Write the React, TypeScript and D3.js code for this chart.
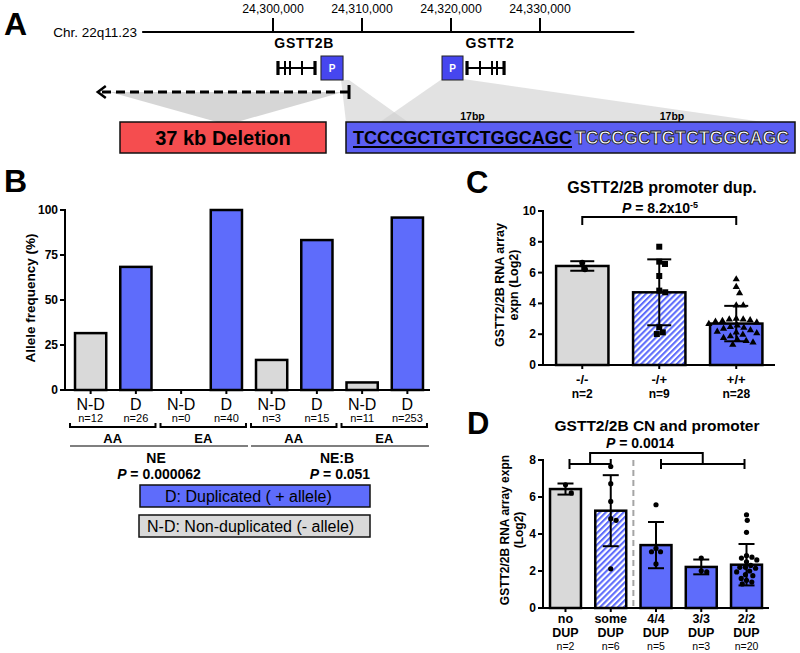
import React from "react";
import * as d3 from "d3";

const FONT = "'Liberation Sans', Arial, Helvetica, sans-serif";
const BLUE = "#5e6cfb";
const GRAY = "#d9d9d9";
const PBLUE = "#4646ef";
const RED = "#f54d4f";
const SEQBLUE = "#5b5ef2";

// ---------- Panel A data ----------
const chrTicks = [24300000, 24310000, 24320000, 24330000];
const chrLabel = "Chr. 22q11.23";
const chrSpanKb = [-14.7, 40.6];
const geneNames = ["GSTT2B", "GSTT2"];
const gstt2bExonsKb = [0.56, 1.35, 1.91, 3.26, 4.72];
const gstt2ExonsKb = [21.8, 23.26, 24.61, 25.17, 25.96];
const promoterKb = [[5.39, 7.87], [18.99, 21.35]];
const deletionKb = [-19.8, 8.54];
const deletionLabel = "37 kb Deletion";
const seqUnit = "TCCCGCTGTCTGGCAGC";
const seqUnitLabels = ["17bp", "17bp"];

// ---------- Panel B data ----------
const bCategories = ["N-D", "D", "N-D", "D", "N-D", "D", "N-D", "D"];
const bCounts = [12, 26, 0, 40, 3, 15, 11, 253];
const bFreq = [31.6, 68.4, 0, 100, 16.7, 83.3, 4.2, 95.8];
const bAncestry = ["AA", "EA", "AA", "EA"];
const bCohorts = ["NE", "NE:B"];
const bPValues = ["0.000062", "0.051"];
const bTicks = [0, 25, 50, 75, 100];
const bLegend = ["D: Duplicated ( + allele)", "N-D: Non-duplicated (- allele)"];

// ---------- Panel C data ----------
const cCategories = ["-/-", "-/+", "+/+"];
const cCounts = [2, 9, 28];
const cMeans = [6.43, 4.72, 2.69];
const cSD = [0.31, 2.14, 1.15];
const cPoints = [
  [6.64, 6.22],
  [7.68, 6.71, 6.56, 5.78, 4.83, 4.72, 2.45, 2.01, 2.12],
  [5.6, 5.1, 4.7, 3.9, 3.9, 3.05, 3.0, 3.0, 2.95, 2.9, 2.85, 2.8, 2.7, 2.6,
   2.5, 2.45, 2.4, 2.3, 2.2, 2.15, 2.1, 2.0, 1.9, 1.8, 1.7, 1.6, 1.5, 1.35],
];
const cTicks = [0, 2, 4, 6, 8, 10];

// ---------- Panel D data ----------
const dCategories = [["no", "DUP"], ["some", "DUP"], ["4/4", "DUP"], ["3/3", "DUP"], ["2/2", "DUP"]];
const dCounts = [2, 6, 5, 3, 20];
const dMeans = [6.43, 5.26, 3.4, 2.22, 2.34];
const dSD = [0.3, 1.92, 1.25, 0.4, 1.12];
const dPoints = [
  [6.66, 6.22],
  [7.65, 6.72, 5.76, 4.83, 4.74, 2.12],
  [5.58, 3.22, 3.04, 3.04, 2.38],
  [2.7, 2.01, 1.95],
  [5.04, 4.74, 4.09, 2.83, 2.75, 2.7, 2.6, 2.5, 2.3, 2.2, 2.2, 2.15, 2.0, 1.95,
   1.8, 1.75, 1.6, 1.5, 1.4, 1.3],
];
const dTicks = [0, 2, 4, 6, 8];

function swarm(values: number[], y: (v: number) => number, diam: number): number[] {
  const placed: { x: number; y: number }[] = [];
  const order = values.map((_, i) => i).sort((a, b) => values[b] - values[a]);
  const xs = new Array(values.length).fill(0);
  for (const i of order) {
    const py = y(values[i]);
    const cands = [0];
    for (const p of placed) {
      const dyy = Math.abs(p.y - py);
      if (dyy < diam) {
        const dxx = Math.sqrt(diam * diam - dyy * dyy);
        cands.push(p.x + dxx + 0.01, p.x - dxx - 0.01);
      }
    }
    cands.sort((a, b) => Math.abs(a) - Math.abs(b));
    let chosen = 0;
    for (const c of cands) {
      if (placed.every((p) => (p.x - c) ** 2 + (p.y - py) ** 2 >= diam * diam - 0.02)) {
        chosen = c;
        break;
      }
    }
    placed.push({ x: chosen, y: py });
    xs[i] = chosen;
  }
  return xs;
}

function Marker({ kind, x, y }: { kind: string; x: number; y: number }) {
  if (kind === "square") return <rect x={x - 3} y={y - 3} width={6} height={6} fill="#000" />;
  if (kind === "triangle")
    return <path d={`M${x},${y - 3.6} L${x + 3.6},${y + 2.6} L${x - 3.6},${y + 2.6} Z`} fill="#000" />;
  if (kind === "bigcircle") return <circle cx={x} cy={y} r={3} fill="#000" />;
  return <circle cx={x} cy={y} r={2.6} fill="#000" />;
}

export default function App() {
  // ---- Panel A ----
  const gx = d3.scaleLinear().domain([24300000, 24330000]).range([273, 540]);
  const kb = (k: number) => gx(24300000 + k * 1000);
  const chrY = 32;
  const geneY = 68;
  const fmt = d3.format(",");
  const delBox = { x: 120, y: 122, w: 206, h: 31 };
  const seqBox = { x: 346, y: 122, w: 449, h: 31 };
  const seqX1 = [353, 575];
  const seqW = [219, 214];

  const geneStruct = (exons: number[], key: string) => (
    <g key={key}>
      <line x1={kb(exons[0])} x2={kb(exons[exons.length - 1])} y1={geneY} y2={geneY} stroke="#000" strokeWidth={2} />
      {exons.map((e, i) => (
        <line key={i} x1={kb(e)} x2={kb(e)} y1={geneY - 7} y2={geneY + 7} stroke="#000"
          strokeWidth={i === 0 || i === exons.length - 1 ? 3.2 : 2} />
      ))}
    </g>
  );

  // ---- Panel B ----
  const bx = d3.scaleBand<number>().domain(d3.range(bCategories.length)).range([68, 430]).paddingInner(0.31).paddingOuter(0.155);
  const by = d3.scaleLinear().domain([0, 100]).range([390, 210]);
  const bw = bx.bandwidth();
  const bAxisX = 65;

  // ---- Panel C ----
  const cx = d3.scaleBand<number>().domain(d3.range(cCategories.length)).range([543, 775.5]).paddingInner(0.32).paddingOuter(0.17);
  const cy = d3.scaleLinear().domain([0, 10]).range([365, 211]);
  const cw = cx.bandwidth();
  const cFills = [GRAY, "url(#hatch)", BLUE];
  const cMarkers = ["bigcircle", "square", "triangle"];
  const cDiam = [7, 6.2, 7];

  // ---- Panel D ----
  const dx = d3.scaleBand<number>().domain(d3.range(dCategories.length)).range([543, 769]).paddingInner(0.316).paddingOuter(0.155);
  const dy = d3.scaleLinear().domain([0, 8]).range([608, 460]);
  const dw = dx.bandwidth();
  const dFills = [GRAY, "url(#hatch)", BLUE, BLUE, BLUE];
  const dSep = (dx(1)! + dw + dx(2)!) / 2;

  const txt = { fontFamily: FONT } as const;

  return (
    <svg width={800} height={653} style={{ position: "absolute", left: 0, top: 0, background: "#fff" }} fontFamily={FONT}>
      <defs>
        <pattern id="hatch" patternUnits="userSpaceOnUse" width={4.2} height={4.2} patternTransform="rotate(45)">
          <rect width={4.2} height={4.2} fill="#fff" />
          <line x1={1} y1={0} x2={1} y2={4.2} stroke={BLUE} strokeWidth={2.2} />
        </pattern>
      </defs>

      {/* ================= Panel A ================= */}
      <text x={4} y={35} fontSize={32} fontWeight="bold" {...txt}>A</text>
      <text x={137} y={chrY + 4.5} fontSize={13.5} textAnchor="end" {...txt}>{chrLabel}</text>
      <line x1={kb(chrSpanKb[0])} x2={kb(chrSpanKb[1])} y1={chrY} y2={chrY} stroke="#000" strokeWidth={2} />
      {chrTicks.map((t) => (
        <g key={t}>
          <line x1={gx(t)} x2={gx(t)} y1={chrY} y2={chrY - 14} stroke="#000" strokeWidth={2} />
          <text x={gx(t)} y={13} fontSize={12.3} textAnchor="middle" {...txt}>{fmt(t)}</text>
        </g>
      ))}

      {/* projection wedges */}
      <polygon points={`${kb(deletionKb[0]) + 13},${92} ${kb(deletionKb[1]) - 6},${92} ${delBox.x + delBox.w / 2 + 14},${delBox.y} ${delBox.x + delBox.w / 2 - 6},${delBox.y}`} fill="#cfcfcf" opacity={0.85} />
      <polygon points={`${kb(promoterKb[0][1]) - 2},80 ${kb(promoterKb[0][1]) + 6},80 ${seqBox.x + 62},${seqBox.y} ${seqBox.x},${seqBox.y}`} fill="#cfcfcf" opacity={0.6} />
      <polygon points={`${kb(promoterKb[1][0])},79 ${kb(promoterKb[1][1])},79 ${seqBox.x + 417},${seqBox.y} ${seqBox.x + 34},${seqBox.y}`} fill="#cfcfcf" opacity={0.6} />

      {/* genes */}
      {geneStruct(gstt2bExonsKb, "g2b")}
      {geneStruct(gstt2ExonsKb, "g2")}
      <text x={kb(3.51)} y={48} fontSize={14} fontWeight="bold" textAnchor="middle" letterSpacing={0.8} {...txt}>{geneNames[0]}</text>
      <text x={kb(24.4)} y={48} fontSize={14} fontWeight="bold" textAnchor="middle" letterSpacing={0.8} {...txt}>{geneNames[1]}</text>
      {promoterKb.map((p, i) => (
        <g key={i}>
          <rect x={kb(p[0])} y={56} width={kb(p[1]) - kb(p[0])} height={24} fill={PBLUE} stroke="#222" strokeWidth={1} />
          <text x={(kb(p[0]) + kb(p[1])) / 2} y={71.5} fontSize={10} fontWeight="bold" fill="#fff" textAnchor="middle" {...txt}>P</text>
        </g>
      ))}

      {/* deletion arrow */}
      <line x1={kb(deletionKb[1])} x2={kb(deletionKb[0]) + 3} y1={92} y2={92} stroke="#000" strokeWidth={3} strokeDasharray="9,5" />
      <path d={`M${kb(deletionKb[0]) + 9},86 L${kb(deletionKb[0]) + 1},92 L${kb(deletionKb[0]) + 9},98`} fill="none" stroke="#000" strokeWidth={2.5} />
      <line x1={kb(deletionKb[1])} x2={kb(deletionKb[1])} y1={85} y2={99} stroke="#000" strokeWidth={3} />

      {/* boxes */}
      <rect x={delBox.x} y={delBox.y} width={delBox.w} height={delBox.h} fill={RED} stroke="#111" strokeWidth={1.5} />
      <text x={delBox.x + delBox.w / 2} y={delBox.y + 22.5} fontSize={20} fontWeight="bold" textAnchor="middle" {...txt}>{deletionLabel}</text>
      <rect x={seqBox.x} y={seqBox.y} width={seqBox.w} height={seqBox.h} fill={SEQBLUE} stroke="#111" strokeWidth={1.5} />
      <text x={seqX1[0]} y={seqBox.y + 22} fontSize={18} fontWeight="bold" textLength={seqW[0]} lengthAdjust="spacingAndGlyphs" {...txt}>{seqUnit}</text>
      <line x1={seqX1[0]} x2={seqX1[0] + seqW[0]} y1={seqBox.y + 25} y2={seqBox.y + 25} stroke="#000" strokeWidth={2} />
      <text x={seqX1[1]} y={seqBox.y + 22} fontSize={18} fontWeight="bold" fill="#fff" stroke="#222" strokeWidth={0.9} textLength={seqW[1]} lengthAdjust="spacingAndGlyphs" {...txt}>{seqUnit}</text>
      <text x={seqX1[0] + seqW[0] / 2 + 10} y={120} fontSize={10.5} fontWeight="bold" textAnchor="middle" {...txt}>{seqUnitLabels[0]}</text>
      <text x={seqX1[1] + seqW[1] / 2 - 10} y={120} fontSize={10.5} fontWeight="bold" textAnchor="middle" {...txt}>{seqUnitLabels[1]}</text>

      {/* ================= Panel B ================= */}
      <text x={4} y={192} fontSize={32} fontWeight="bold" {...txt}>B</text>
      <text transform={`translate(35,${(by(0) + by(100)) / 2 - 2}) rotate(-90)`} fontSize={13.5} fontWeight="bold" textAnchor="middle" {...txt}>Allele frequency (%)</text>
      <line x1={bAxisX} x2={bAxisX} y1={by(100) - 1} y2={by(0)} stroke="#000" strokeWidth={2} />
      {bTicks.map((t) => (
        <g key={t}>
          <line x1={bAxisX - 5} x2={bAxisX} y1={by(t)} y2={by(t)} stroke="#000" strokeWidth={2} />
          <text x={bAxisX - 7} y={by(t) + 4} fontSize={12} fontWeight="bold" textAnchor="end" {...txt}>{t}</text>
        </g>
      ))}
      {bFreq.map((v, i) =>
        v > 0 ? (
          <rect key={i} x={bx(i)!} y={by(v)} width={bw} height={by(0) - by(v)} fill={bCategories[i] === "D" ? BLUE : GRAY} stroke="#000" strokeWidth={2.5} />
        ) : null
      )}
      <line x1={bAxisX} x2={430} y1={by(0)} y2={by(0)} stroke="#000" strokeWidth={2} />
      {bCategories.map((c, i) => (
        <g key={i}>
          <line x1={bx(i)! + bw / 2} x2={bx(i)! + bw / 2} y1={by(0)} y2={by(0) + 4} stroke="#000" strokeWidth={2} />
          <text x={bx(i)! + bw / 2} y={410} fontSize={16} textAnchor="middle" {...txt}>{c}</text>
          <text x={bx(i)! + bw / 2} y={422} fontSize={11} textAnchor="middle" {...txt}>n={bCounts[i]}</text>
        </g>
      ))}
      {bAncestry.map((a, g) => {
        const x1 = bx(2 * g)! - 5;
        const x2 = bx(2 * g + 1)! + bw + 4;
        return (
          <g key={g}>
            <path d={`M${x1},423 L${x1},427 L${x2},427 L${x2},423`} fill="none" stroke="#000" strokeWidth={2} />
            <text x={(x1 + x2) / 2} y={443} fontSize={13} fontWeight="bold" textAnchor="middle" {...txt}>{a}</text>
          </g>
        );
      })}
      {bCohorts.map((c, k) => {
        const x1 = bx(4 * k)! - 5;
        const x2 = bx(4 * k + 3)! + bw + 6;
        const mid = (x1 + x2) / 2;
        return (
          <g key={k}>
            <line x1={x1} x2={x2} y1={446} y2={446} stroke="#555" strokeWidth={1.5} />
            <text x={mid - 3} y={463} fontSize={14} fontWeight="bold" textAnchor="middle" {...txt}>{c}</text>
            <text x={mid} y={479} fontSize={14} fontWeight="bold" textAnchor="middle" {...txt}>
              <tspan fontStyle="italic">P</tspan> = {bPValues[k]}
            </text>
          </g>
        );
      })}
      <rect x={140} y={485} width={230} height={22} fill={BLUE} stroke="#111" strokeWidth={1.5} />
      <text x={165} y={502} fontSize={16} {...txt}>{bLegend[0]}</text>
      <rect x={139} y={515} width={231} height={22} fill={GRAY} stroke="#111" strokeWidth={1.5} />
      <text x={147} y={532} fontSize={16} {...txt}>{bLegend[1]}</text>

      {/* ================= Panel C ================= */}
      <text x={466} y={193} fontSize={31} fontWeight="bold" {...txt}>C</text>
      <text x={662} y={193} fontSize={16} fontWeight="bold" textAnchor="middle" {...txt}>GSTT2/2B promoter dup.</text>
      <text x={660} y={213} fontSize={14} fontWeight="bold" textAnchor="middle" {...txt}>
        <tspan fontStyle="italic">P</tspan> = 8.2x10<tspan dy={-5} fontSize={9}>-5</tspan>
      </text>
      <path d={`M${cx(0)! + cw / 2},225 L${cx(0)! + cw / 2},217 L${cx(2)! + cw / 2},217 L${cx(2)! + cw / 2},225`} fill="none" stroke="#000" strokeWidth={2} />
      <text transform={`translate(500,285) rotate(-90)`} fontSize={12.5} fontWeight="bold" textAnchor="middle" dominantBaseline="central" {...txt}>GSTT2/2B RNA array</text>
      <text transform={`translate(513.5,285) rotate(-90)`} fontSize={12.5} fontWeight="bold" textAnchor="middle" dominantBaseline="central" {...txt}>expn (Log2)</text>
      <line x1={543} x2={543} y1={cy(10) - 1} y2={cy(0)} stroke="#000" strokeWidth={2} />
      {cTicks.map((t) => (
        <g key={t}>
          <line x1={538} x2={543} y1={cy(t)} y2={cy(t)} stroke="#000" strokeWidth={2} />
          <text x={536} y={cy(t) + 4} fontSize={12} fontWeight="bold" textAnchor="end" {...txt}>{t}</text>
        </g>
      ))}
      {cMeans.map((m, i) => {
        const x0 = cx(i)!;
        const c = x0 + cw / 2;
        const offs = swarm(cPoints[i], (v) => cy(v), cDiam[i]);
        return (
          <g key={i}>
            <rect x={x0} y={cy(m)} width={cw} height={cy(0) - cy(m)} fill={cFills[i]} stroke="#000" strokeWidth={2.5} />
            {cPoints[i].map((v, j) => (
              <Marker key={j} kind={cMarkers[i]} x={c + offs[j]} y={cy(v)} />
            ))}
            <line x1={c} x2={c} y1={cy(m - cSD[i])} y2={cy(m + cSD[i])} stroke="#000" strokeWidth={2} />
            <line x1={c - 12} x2={c + 12} y1={cy(m + cSD[i])} y2={cy(m + cSD[i])} stroke="#000" strokeWidth={2} />
            <line x1={c - 12} x2={c + 12} y1={cy(m - cSD[i])} y2={cy(m - cSD[i])} stroke="#000" strokeWidth={2} />
          </g>
        );
      })}
      <line x1={543} x2={775} y1={cy(0)} y2={cy(0)} stroke="#000" strokeWidth={2} />
      {cCategories.map((c, i) => (
        <g key={i}>
          <line x1={cx(i)! + cw / 2} x2={cx(i)! + cw / 2} y1={cy(0)} y2={cy(0) + 4} stroke="#000" strokeWidth={2} />
          <text x={cx(i)! + cw / 2} y={384} fontSize={13} fontWeight="bold" textAnchor="middle" {...txt}>{c}</text>
          <text x={cx(i)! + cw / 2} y={398} fontSize={12} fontWeight="bold" textAnchor="middle" {...txt}>n={cCounts[i]}</text>
        </g>
      ))}

      {/* ================= Panel D ================= */}
      <text x={467} y={434} fontSize={31} fontWeight="bold" {...txt}>D</text>
      <text x={657} y={431} fontSize={15.5} fontWeight="bold" textAnchor="middle" {...txt}>GSTT2/2B CN and promoter</text>
      <text x={640} y={448} fontSize={14} fontWeight="bold" textAnchor="middle" {...txt}>
        <tspan fontStyle="italic">P</tspan> = 0.0014
      </text>
      {(() => {
        const l1 = dx(0)! + dw / 2 + 4, l2 = dx(1)! + dw / 2;
        const r1 = dx(2)! + dw / 2 + 5, r2 = dx(4)! + dw / 2 - 2;
        const lm = (l1 + l2) / 2, rm = (r1 + r2) / 2;
        return (
          <g fill="none" stroke="#000" strokeWidth={2}>
            <line x1={l1} x2={l2} y1={464} y2={464} />
            <line x1={l1} x2={l1} y1={459} y2={469} />
            <line x1={l2} x2={l2} y1={459} y2={469} />
            <line x1={r1} x2={r2} y1={464} y2={464} />
            <line x1={r1} x2={r1} y1={459} y2={469} />
            <line x1={r2} x2={r2} y1={459} y2={469} />
            <path d={`M${lm},464 L${lm},453 L${rm},453 L${rm},464`} />
          </g>
        );
      })()}
      <text transform={`translate(505,530) rotate(-90)`} fontSize={12} fontWeight="bold" textAnchor="middle" dominantBaseline="central" {...txt}>GSTT2/2B RNA array expn</text>
      <text transform={`translate(518.5,530) rotate(-90)`} fontSize={12} fontWeight="bold" textAnchor="middle" dominantBaseline="central" {...txt}>(Log2)</text>
      <line x1={543} x2={543} y1={dy(8) - 1} y2={dy(0)} stroke="#000" strokeWidth={2} />
      {dTicks.map((t) => (
        <g key={t}>
          <line x1={538} x2={543} y1={dy(t)} y2={dy(t)} stroke="#000" strokeWidth={2} />
          <text x={536} y={dy(t) + 4} fontSize={12} fontWeight="bold" textAnchor="end" {...txt}>{t}</text>
        </g>
      ))}
      <line x1={dSep} x2={dSep} y1={dy(8)} y2={dy(0)} stroke="#a5a5a5" strokeWidth={2} strokeDasharray="6,4" />
      {dMeans.map((m, i) => {
        const x0 = dx(i)!;
        const c = x0 + dw / 2;
        const offs = swarm(dPoints[i], (v) => dy(v), i === 0 ? 10 : 5.6);
        return (
          <g key={i}>
            <rect x={x0} y={dy(m)} width={dw} height={dy(0) - dy(m)} fill={dFills[i]} stroke="#000" strokeWidth={2.5} />
            {dPoints[i].map((v, j) => (
              <Marker key={j} kind="circle" x={c + offs[j]} y={dy(v)} />
            ))}
            <line x1={c} x2={c} y1={dy(m - dSD[i])} y2={dy(m + dSD[i])} stroke="#000" strokeWidth={2} />
            <line x1={c - 8} x2={c + 8} y1={dy(m + dSD[i])} y2={dy(m + dSD[i])} stroke="#000" strokeWidth={2} />
            <line x1={c - 8} x2={c + 8} y1={dy(m - dSD[i])} y2={dy(m - dSD[i])} stroke="#000" strokeWidth={2} />
          </g>
        );
      })}
      <line x1={543} x2={769} y1={dy(0)} y2={dy(0)} stroke="#000" strokeWidth={2} />
      {dCategories.map((c, i) => (
        <g key={i}>
          <line x1={dx(i)! + dw / 2} x2={dx(i)! + dw / 2} y1={dy(0)} y2={dy(0) + 4} stroke="#000" strokeWidth={2} />
          <text x={dx(i)! + dw / 2} y={623} fontSize={12.5} fontWeight="bold" textAnchor="middle" {...txt}>{c[0]}</text>
          <text x={dx(i)! + dw / 2} y={637} fontSize={12.5} fontWeight="bold" textAnchor="middle" {...txt}>{c[1]}</text>
          <text x={dx(i)! + dw / 2} y={649.5} fontSize={10.5} textAnchor="middle" {...txt}>n={dCounts[i]}</text>
        </g>
      ))}
    </svg>
  );
}
